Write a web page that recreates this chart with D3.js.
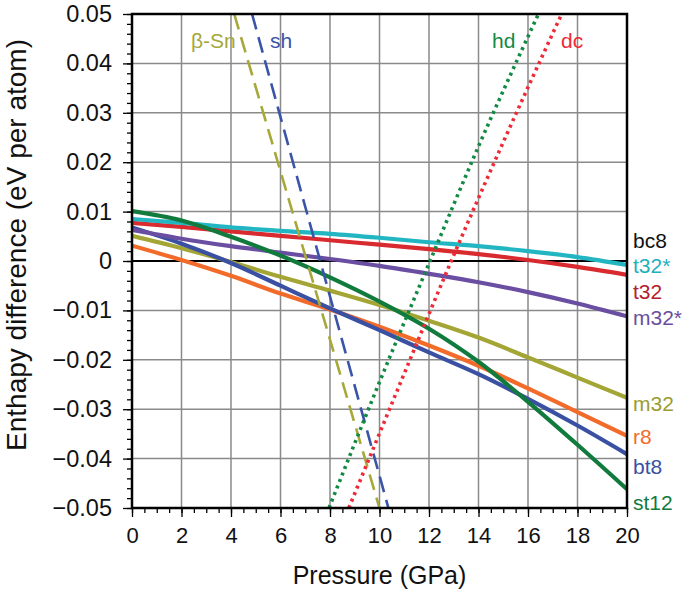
<!DOCTYPE html>
<html><head><meta charset="utf-8">
<script src="https://cdn.jsdelivr.net/npm/d3@7"></script>
<style>body{margin:0;background:#fff} text{font-family:"Liberation Sans",Arial,Helvetica,sans-serif}</style>
</head><body><svg id="c" width="685" height="590"></svg>
<script>
const pressures=[0,2,4,6,8,10,12,14,16,18,20];
const t32s=[0.0085,0.0077,0.0068,0.0061,0.0055,0.0047,0.0038,0.0030,0.0020,0.0008,-0.0008];
const t32=[0.0077,0.0069,0.0060,0.0051,0.0042,0.0033,0.0024,0.0014,0.0002,-0.0012,-0.0028];
const m32s=[0.0063,0.0045,0.0030,0.0017,0.0004,-0.0010,-0.0026,-0.0043,-0.0063,-0.0086,-0.0112];
const m32=[0.0051,0.0026,-0.0002,-0.0032,-0.0060,-0.0089,-0.0121,-0.0155,-0.0195,-0.0236,-0.0277];
const r8=[0.0031,0.0002,-0.0030,-0.0066,-0.0098,-0.0133,-0.0171,-0.0212,-0.0258,-0.0306,-0.0354];
const bt8=[0.0068,0.0035,-0.0004,-0.0050,-0.0096,-0.0140,-0.0185,-0.0229,-0.0279,-0.0333,-0.0391];
const st12=[0.0101,0.0082,0.0049,0.0011,-0.0033,-0.0082,-0.0137,-0.0204,-0.0285,-0.0372,-0.0462];
const bc8=[0,0,0,0,0,0,0,0,0,0,0];

const betaSnP=[4.13,10.0], betaSnV=[0.05,-0.05];
const shP=[4.85,10.36], shV=[0.05,-0.05];
const hdP=[7.96,10.0,12.0,14.0,16.42], hdV=[-0.05,-0.0245,-0.0005,0.0232,0.05];
const dcP=[8.76,10.9,12.9,14.95,17.36], dcV=[-0.05,-0.024,0.0,0.0235,0.05];

const xTicks=[0,2,4,6,8,10,12,14,16,18,20];
const yTicks=[0.05,0.04,0.03,0.02,0.01,0,-0.01,-0.02,-0.03,-0.04,-0.05];
const yTickLabels=["0.05","0.04","0.03","0.02","0.01","0","\u22120.01","\u22120.02","\u22120.03","\u22120.04","\u22120.05"];

const solid=[
 {name:"r8",v:r8,color:"#f26b2a",lc:"#f26b2a",ly:437},
 {name:"m32",v:m32,color:"#a3a535",lc:"#9a9c30",ly:404},
 {name:"bt8",v:bt8,color:"#3a50a2",lc:"#3a50a2",ly:467},
 {name:"m32*",v:m32s,color:"#6a4ea2",lc:"#6a4ea2",ly:318},
 {name:"t32",v:t32,color:"#d82a2f",lc:"#b3202a",ly:292},
 {name:"t32*",v:t32s,color:"#22b5c2",lc:"#22b0bc",ly:266},
 {name:"st12",v:st12,color:"#117a3d",lc:"#117a3d",ly:503}
];
const steep=[
 {name:"\u03b2-Sn",p:betaSnP,v:betaSnV,color:"#a6a83a",dash:"16,8",w:2.6,lx:191},
 {name:"sh",p:shP,v:shV,color:"#3a55a8",dash:"16,8",w:2.6,lx:270},
 {name:"hd",p:hdP,v:hdV,color:"#138a44",dash:"3,4",w:3.6,lx:492},
 {name:"dc",p:dcP,v:dcV,color:"#ee2a36",dash:"3,4",w:3.6,lx:561}
];

const L=132,R=627,T=14,B=508;
const x=d3.scaleLinear().domain([0,20]).range([L,R]);
const y=d3.scaleLinear().domain([-0.05,0.05]).range([B,T]);
const svg=d3.select("#c");

svg.append("defs").append("clipPath").attr("id","clip").append("rect")
 .attr("x",L).attr("y",T).attr("width",R-L).attr("height",B-T);

// grid
const g=svg.append("g");
g.selectAll(".gx").data(xTicks).join("line").attr("x1",d=>x(d)).attr("x2",d=>x(d))
 .attr("y1",T).attr("y2",B).attr("stroke","#8a8a8a").attr("stroke-width",1.5);
g.selectAll(".gy").data(yTicks).join("line").attr("y1",d=>y(d)).attr("y2",d=>y(d))
 .attr("x1",L).attr("x2",R).attr("stroke","#8a8a8a").attr("stroke-width",1.5);

// axes
const xAxis=d3.axisBottom(x).tickValues(xTicks).tickSize(9).tickFormat(d3.format("d"));
const xMinor=d3.axisBottom(x).tickValues(d3.range(0,20.01,0.5)).tickSize(5).tickFormat("");
const yAxis=d3.axisLeft(y).tickValues(yTicks).tickSize(9).tickFormat((d,i)=>yTickLabels[i]);
const yMinor=d3.axisLeft(y).tickValues(d3.range(-0.05,0.0501,0.002)).tickSize(5).tickFormat("");

function style(sel){sel.select(".domain").remove();sel.selectAll("line").attr("stroke","#000").attr("stroke-width",1.3);}
svg.append("g").attr("transform",`translate(0,${B})`).call(xMinor).call(style);
svg.append("g").attr("transform",`translate(${L},0)`).call(yMinor).call(style);
const xa=svg.append("g").attr("transform",`translate(0,${B})`).call(xAxis).call(style);
xa.selectAll("text").attr("font-size",22).attr("fill","#111").attr("dy","1.05em")
 .attr("font-family","'Liberation Sans',Arial,sans-serif");
const ya=svg.append("g").attr("transform",`translate(${L},0)`).call(yAxis).call(style);
ya.selectAll("text").attr("font-size",23.5).attr("fill","#111").attr("x",-20)
 .attr("font-family","'Liberation Sans',Arial,sans-serif");

// zero line (bc8)
const line=d3.line().x((d,i)=>x(pressures[i])).y(d=>y(d)).curve(d3.curveMonotoneX);
const plot=svg.append("g").attr("clip-path","url(#clip)");
plot.append("path").attr("d",line(bc8)).attr("fill","none").attr("stroke","#000").attr("stroke-width",2.2);

solid.forEach(s=>{
 plot.append("path").attr("d",line(s.v)).attr("fill","none").attr("stroke",s.color)
  .attr("stroke-width",4.2).attr("stroke-linecap","butt");
});
steep.forEach(s=>{
 const l2=d3.line().x((d,i)=>x(s.p[i])).y(d=>y(d)).curve(d3.curveMonotoneX);
 plot.append("path").attr("d",l2(s.v)).attr("fill","none").attr("stroke",s.color)
  .attr("stroke-width",s.w).attr("stroke-dasharray",s.dash);
 svg.append("text").attr("x",s.lx).attr("y",48).attr("font-size",21).attr("fill",s.color).text(s.name);
});

// frame
svg.append("rect").attr("x",L).attr("y",T).attr("width",R-L).attr("height",B-T)
 .attr("fill","none").attr("stroke","#000").attr("stroke-width",2.5);

// right labels
const rl=[{name:"bc8",lc:"#111",ly:241}].concat(solid);
rl.forEach(s=>{
 svg.append("text").attr("x",633).attr("y",s.ly+7).attr("font-size",21).attr("fill",s.lc).text(s.name);
});

// titles
svg.append("text").attr("x",x(10)).attr("y",584).attr("text-anchor","middle").attr("font-size",25)
 .attr("fill","#111").text("Pressure (GPa)");
svg.append("text").attr("transform","translate(26,245) rotate(-90)").attr("text-anchor","middle")
 .attr("font-size",28).attr("fill","#111").text("Enthapy difference (eV per atom)");
</script></body></html>
